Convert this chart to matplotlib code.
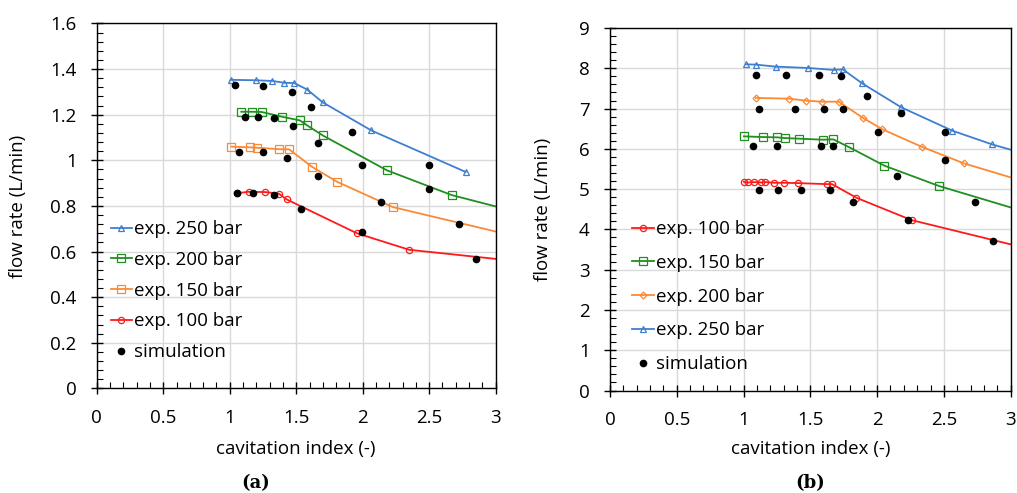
import matplotlib
matplotlib.use('Agg')
import matplotlib.pyplot as plt
from matplotlib.ticker import MultipleLocator

plt.rcParams['font.family'] = ['Open Sans', 'DejaVu Sans']

# ---- (a) data: cavitation index vs flow rate, last point of each line is only the line end
a250_x = [1.008, 1.20, 1.32, 1.41, 1.485, 1.583, 1.70, 2.065, 2.775]
a250_y = [1.353, 1.351, 1.348, 1.340, 1.339, 1.310, 1.254, 1.131, 0.949]
a200_x = [1.0875, 1.165, 1.24, 1.395, 1.528, 1.583, 1.70, 2.183, 2.668, 3.0]
a200_y = [1.213, 1.213, 1.212, 1.191, 1.175, 1.153, 1.109, 0.956, 0.848, 0.798]
a150_x = [1.0125, 1.1525, 1.2075, 1.3725, 1.4475, 1.6175, 1.8075, 2.2275, 3.0]
a150_y = [1.060, 1.057, 1.055, 1.049, 1.048, 0.972, 0.906, 0.795, 0.688]
a100_x = [1.0525, 1.1425, 1.265, 1.37, 1.4275, 1.9575, 2.35, 3.0]
a100_y = [0.856, 0.862, 0.861, 0.854, 0.829, 0.680, 0.608, 0.568]
a_sim_x = [1.04, 1.25, 1.4675, 1.61, 1.1125, 1.2125, 1.33, 1.4775, 1.665, 1.9225,
           1.9975, 2.4975, 1.0725, 1.25, 1.4275, 1.665, 1.0525, 1.175, 1.3325, 1.5375,
           2.14, 1.9975, 2.4975, 2.7225, 2.8525]
a_sim_y = [1.329, 1.324, 1.298, 1.234, 1.191, 1.190, 1.187, 1.149, 1.077, 1.124,
           0.979, 0.979, 1.038, 1.035, 1.011, 0.930, 0.856, 0.856, 0.849, 0.786,
           0.817, 0.685, 0.874, 0.720, 0.568]

# ---- (b) data
b100_x = [1.0025, 1.03, 1.08, 1.13, 1.1625, 1.23, 1.3025, 1.4075, 1.625, 1.6625, 1.845, 2.2575, 3.0]
b100_y = [5.182, 5.165, 5.174, 5.165, 5.174, 5.157, 5.157, 5.149, 5.124, 5.124, 4.785, 4.231, 3.628]
b150_x = [1.0025, 1.1425, 1.2525, 1.3075, 1.4175, 1.5925, 1.6725, 1.7875, 2.055, 2.465, 3.0]
b150_y = [6.310, 6.293, 6.285, 6.268, 6.252, 6.227, 6.235, 6.045, 5.581, 5.075, 4.545]
b200_x = [1.0925, 1.3425, 1.4675, 1.59, 1.7125, 1.895, 2.04, 2.3325, 2.65, 3.0]
b200_y = [7.263, 7.246, 7.196, 7.171, 7.171, 6.766, 6.484, 6.053, 5.639, 5.291]
b250_x = [1.0175, 1.0925, 1.24, 1.4825, 1.675, 1.7425, 1.8875, 2.18, 2.5625, 2.86, 3.0]
b250_y = [8.099, 8.091, 8.041, 8.008, 7.959, 7.975, 7.627, 7.031, 6.451, 6.111, 5.978]
b_sim_x = [1.09, 1.32, 1.5675, 1.73, 1.925, 1.1175, 1.3825, 1.605, 1.745, 2.0075,
           2.18, 2.5075, 1.0725, 1.2525, 1.58, 1.6725, 2.1475, 2.5075, 1.115, 1.255,
           1.4325, 1.645, 1.8225, 2.2275, 2.735, 2.8675]
b_sim_y = [7.834, 7.834, 7.826, 7.818, 7.321, 6.998, 6.998, 6.998, 6.998, 6.418,
           6.890, 6.418, 6.070, 6.070, 6.070, 6.070, 5.316, 5.713, 4.967, 4.967,
           4.967, 4.967, 4.686, 4.223, 4.678, 3.702]

xticks = [0, 0.5, 1, 1.5, 2, 2.5, 3]
xticklabels = ['0', '0.5', '1', '1.5', '2', '2.5', '3']
a_yticks = [0, 0.2, 0.4, 0.6, 0.8, 1.0, 1.2, 1.4, 1.6]
a_yticklabels = ['0', '0.2', '0.4', '0.6', '0.8', '1', '1.2', '1.4', '1.6']

BLUE = '#3f7fcf'
GREEN = '#1f8f1f'
ORANGE = '#fb8a35'
RED = '#ff1a1a'
FS = 13.5


def exp_line(ax, x, y, color, marker, label, ms, ends_with_line=True):
    n = len(x) - 1 if ends_with_line else len(x)
    ax.plot(x, y, color=color, lw=1.3, marker=marker, ms=ms, mfc='none',
            mec=color, mew=0.9, markevery=slice(0, n), label=label)


def style(ax, ymax, ymaj, ymin):
    ax.set_xlim(0, 3)
    ax.set_ylim(0, ymax)
    ax.set_xticks(xticks)
    ax.set_xticklabels(xticklabels)
    ax.xaxis.set_minor_locator(MultipleLocator(0.1))
    ax.yaxis.set_major_locator(MultipleLocator(ymaj))
    ax.yaxis.set_minor_locator(MultipleLocator(ymin))
    ax.grid(True, which='major', color='#d9d9d9', lw=1.0)
    ax.set_axisbelow(True)
    ax.tick_params(which='major', direction='inout', length=9, width=1.0,
                   labelsize=FS, colors='black', pad=10)
    ax.tick_params(which='minor', direction='in', length=4, width=0.8)
    for s in ax.spines.values():
        s.set_linewidth(1.0)
    ax.set_xlabel('cavitation index (-)', fontsize=FS)
    ax.set_ylabel('flow rate (L/min)', fontsize=FS)


fig = plt.figure(figsize=(10.17, 4.93), dpi=100)
ax1 = fig.add_axes([0.0951, 0.2120, 0.3923, 0.7404])
ax2 = fig.add_axes([0.5998, 0.2079, 0.3940, 0.7353])

exp_line(ax1, a250_x, a250_y, BLUE, '^', 'exp. 250 bar', 5, ends_with_line=False)
exp_line(ax1, a200_x, a200_y, GREEN, 's', 'exp. 200 bar', 5.5)
exp_line(ax1, a150_x, a150_y, ORANGE, 's', 'exp. 150 bar', 5.5)
exp_line(ax1, a100_x, a100_y, RED, 'o', 'exp. 100 bar', 4.5)
ax1.plot(a_sim_x, a_sim_y, 'o', color='black', ms=4.5, ls='none', label='simulation')
style(ax1, 1.6, 0.2, 0.04)
ax1.set_yticks(a_yticks)
ax1.set_yticklabels(a_yticklabels)
ax1.xaxis.set_label_coords(0.5, -0.141)
ax1.yaxis.set_label_coords(-0.175, 0.5)
ax1.legend(loc='lower left', bbox_to_anchor=(0.035, 0.075), frameon=False, fontsize=FS,
           handlelength=1.15, handletextpad=0.12, labelspacing=0.68, borderpad=0,
           borderaxespad=0, numpoints=1)

exp_line(ax2, b100_x, b100_y, RED, 'o', 'exp. 100 bar', 4.5)
exp_line(ax2, b150_x, b150_y, GREEN, 's', 'exp. 150 bar', 5.5)
exp_line(ax2, b200_x, b200_y, ORANGE, 'D', 'exp. 200 bar', 3.5)
exp_line(ax2, b250_x, b250_y, BLUE, '^', 'exp. 250 bar', 5)
ax2.plot(b_sim_x, b_sim_y, 'o', color='black', ms=4.5, ls='none', label='simulation')
style(ax2, 9, 1, 0.2)
ax2.xaxis.set_label_coords(0.5, -0.137)
ax2.yaxis.set_label_coords(-0.145, 0.5)
ax2.legend(loc='lower left', bbox_to_anchor=(0.055, 0.048), frameon=False, fontsize=FS,
           handlelength=1.15, handletextpad=0.12, labelspacing=0.84, borderpad=0,
           borderaxespad=0, numpoints=1)

fig.text(256 / 1017, 1 - 483 / 493, '(a)', family='DejaVu Serif', weight='bold',
         fontsize=13, ha='center', va='center')
fig.text(810 / 1017, 1 - 483 / 493, '(b)', family='DejaVu Serif', weight='bold',
         fontsize=13, ha='center', va='center')

fig.savefig('out.png', dpi=100)
